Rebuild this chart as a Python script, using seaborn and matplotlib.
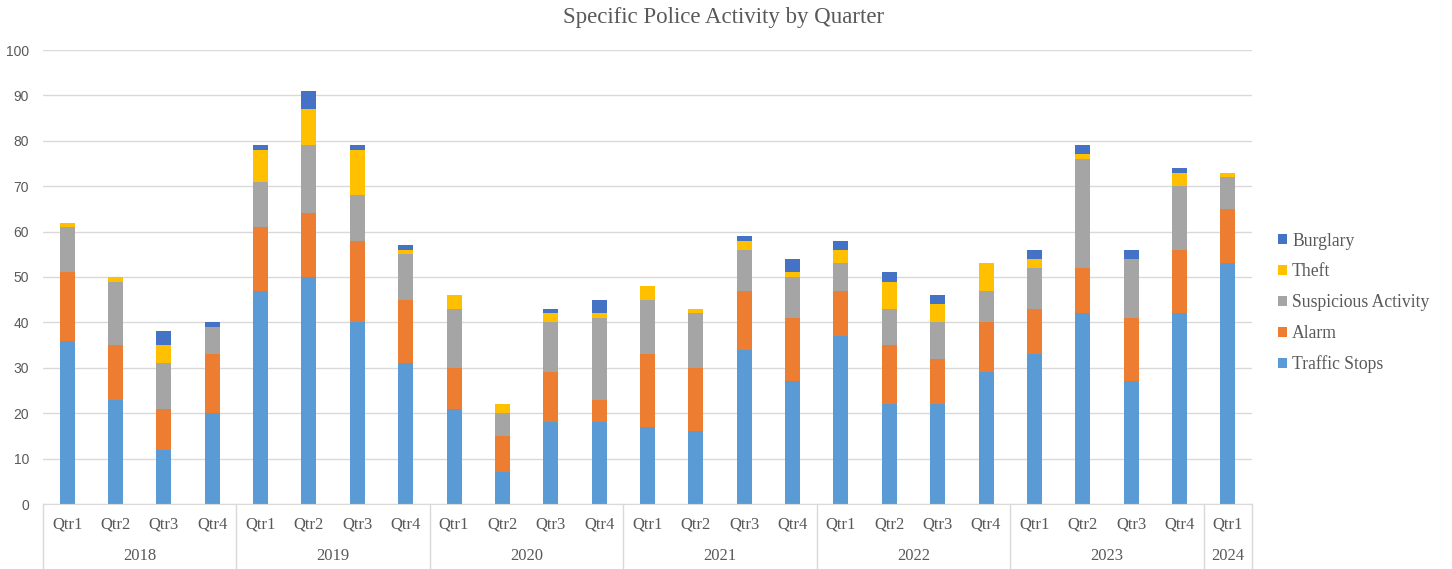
import matplotlib
matplotlib.use("Agg")
import matplotlib.pyplot as plt
from matplotlib.patches import Patch
import pandas as pd
import seaborn as sns

years = ["2018", "2019", "2020", "2021", "2022", "2023", "2024"]
quarters = ["Qtr1", "Qtr2", "Qtr3", "Qtr4"] * 6 + ["Qtr1"]
periods = [y + "-" + q for y in years[:-1] for q in ["Qtr1", "Qtr2", "Qtr3", "Qtr4"]] + ["2024-Qtr1"]

traffic = [36, 23, 12, 20, 47, 50, 40, 31, 21, 7, 18, 18, 17, 16, 34, 27, 37, 22, 22, 29, 33, 42, 27, 42, 53]
alarm = [15, 12, 9, 13, 14, 14, 18, 14, 9, 8, 11, 5, 16, 14, 13, 14, 10, 13, 10, 11, 10, 10, 14, 14, 12]
suspicious = [10, 14, 10, 6, 10, 15, 10, 10, 13, 5, 11, 18, 12, 12, 9, 9, 6, 8, 8, 7, 9, 24, 13, 14, 7]
theft = [1, 1, 4, 0, 7, 8, 10, 1, 3, 2, 2, 1, 3, 1, 2, 1, 3, 6, 4, 6, 2, 1, 0, 3, 1]
burglary = [0, 0, 3, 1, 1, 4, 1, 1, 0, 0, 1, 3, 0, 0, 1, 3, 2, 2, 2, 0, 2, 2, 2, 1, 0]

series = ["Traffic Stops", "Alarm", "Suspicious Activity", "Theft", "Burglary"]
colors = ["#5B9BD5", "#ED7D31", "#A5A5A5", "#FFC000", "#4472C4"]

df = pd.DataFrame({"period": periods, "Traffic Stops": traffic, "Alarm": alarm,
                   "Suspicious Activity": suspicious, "Theft": theft, "Burglary": burglary})
cum = df[series].cumsum(axis=1)

W, H = 1452, 569
fig = plt.figure(figsize=(W / 100, H / 100), dpi=100)
ax = fig.add_axes([43 / W, 1 - 504 / H, (1252 - 43) / W, (504 - 50) / H])

# draw tallest stack first, then overlay smaller cumulative totals
for s, c in reversed(list(zip(series, colors))):
    sns.barplot(x=df["period"], y=cum[s], color=c, saturation=1, width=0.31, ax=ax)

ax.set_ylim(0, 100)
ax.set_xlim(-0.5, len(periods) - 0.5)
ax.set_yticks(range(0, 101, 10))
ax.grid(axis="y", color="#D9D9D9", lw=1)
ax.set_axisbelow(True)
for sp in ["left", "right", "top"]:
    ax.spines[sp].set_visible(False)
ax.spines["bottom"].set_color("#D9D9D9")
ax.set_xlabel("")
ax.set_ylabel("")
ax.tick_params(axis="y", length=0, pad=10, labelcolor="#595959", labelsize=10)
for t in ax.get_yticklabels():
    t.set_fontfamily("Liberation Sans")
ax.set_xticks(range(len(periods)))
ax.set_xticklabels(quarters, fontfamily="Liberation Serif", fontsize=12, color="#595959")
ax.tick_params(axis="x", length=0, pad=9)

# year labels and separators
trans = ax.get_xaxis_transform()
yr_start = [0, 4, 8, 12, 16, 20, 24]
yr_end = [4, 8, 12, 16, 20, 24, 25]
for y, a, b in zip(years, yr_start, yr_end):
    ax.text((a + b - 1) / 2, -0.115, y, transform=trans, ha="center", va="center",
            fontfamily="Liberation Serif", fontsize=12, color="#595959")
for x in yr_start + [25]:
    ax.plot([x - 0.5, x - 0.5], [0, -0.145], transform=trans, color="#D9D9D9", lw=1, clip_on=False)

fig.suptitle("Specific Police Activity by Quarter", x=724 / W, y=1 - 18 / H, va="center",
             fontfamily="Liberation Serif", fontsize=16.5, color="#595959")

handles = [Patch(facecolor=c, label=s) for s, c in zip(series, colors)][::-1]
leg = fig.legend(handles=handles, loc="center left", bbox_to_anchor=(1262 / W, 1 - 303 / H),
                 frameon=False, prop={"family": "Liberation Serif", "size": 12.7},
                 handlelength=0.5, handleheight=0.5, handletextpad=0.3, labelspacing=0.78)
for t in leg.get_texts():
    t.set_color("#595959")

fig.savefig("out.png", dpi=100)
